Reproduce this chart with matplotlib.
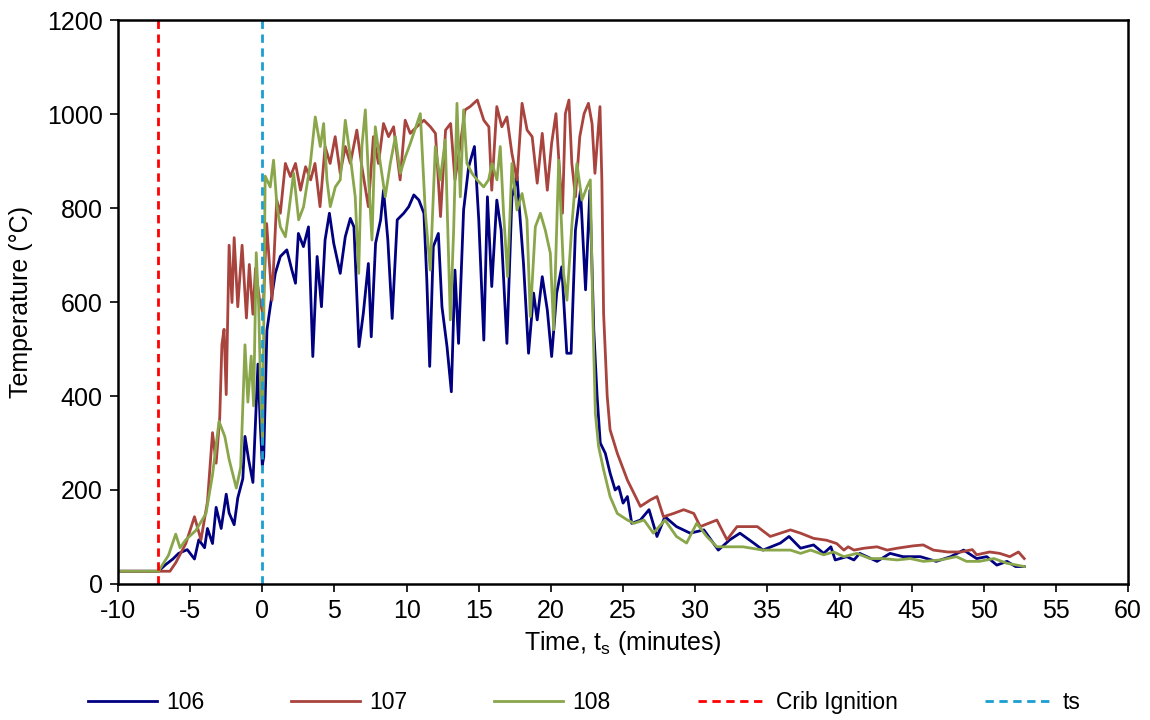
import matplotlib
matplotlib.use("Agg")
from matplotlib import pyplot as plt

# thermocouple 106
t106 = [-10, -7.2, -6.7, -6.2, -5.8, -5.2, -4.7, -4.4, -4.0, -3.8, -3.45, -3.2, -2.85, -2.5, -2.3, -1.95, -1.7, -1.35, -1.2, -0.95,
        -0.65, -0.47, -0.3, -0.15, 0.0, 0.1, 0.32, 0.55, 0.9, 1.25, 1.7, 2.05, 2.3, 2.5, 2.85, 3.2, 3.5, 3.8, 4.1, 4.35,
        4.65, 4.95, 5.4, 5.75, 6.1, 6.35, 6.7, 7.0, 7.35, 7.55, 7.85, 8.2, 8.4, 8.7, 9.0, 9.35, 9.8, 10.15, 10.5, 10.85,
        11.2, 11.4, 11.6, 11.85, 12.2, 12.45, 12.8, 13.1, 13.35, 13.6, 13.95, 14.3, 14.7, 15.0, 15.35, 15.6, 15.9, 16.25, 16.55, 16.95,
        17.3, 17.65, 18.1, 18.45, 18.8, 19.05, 19.4, 19.75, 20.05, 20.4, 20.75, 21.1, 21.4, 21.7, 22.05, 22.4, 22.7, 22.97, 23.2, 23.42,
        23.77, 24.1, 24.45, 24.7, 25.0, 25.3, 25.6, 26.2, 26.8, 27.35, 27.9, 28.7, 29.65, 30.6, 31.6, 32.4, 33.1, 34.05, 34.7, 35.9,
        36.5, 37.3, 38.2, 38.9, 39.4, 39.7, 40.5, 41.0, 41.4, 42.6, 43.5, 44.4, 45.6, 46.7, 47.7, 48.6, 49.5, 50.2, 50.9, 51.6,
        52.2, 52.8]
temp106 = [27, 27, 41, 53, 65, 73, 53, 94, 77, 118, 86, 163, 118, 191, 151, 126, 183, 224, 314, 265,
           216, 346, 468, 346, 252, 271, 540, 590, 661, 697, 711, 668, 640, 746, 718, 760, 484, 697, 590, 732,
           789, 725, 661, 739, 778, 760, 505, 576, 682, 526, 725, 775, 838, 732, 565, 775, 789, 803, 828, 817,
           789, 647, 463, 718, 746, 590, 505, 409, 668, 512, 796, 888, 931, 775, 519, 824, 633, 817, 753, 512,
           824, 867, 682, 491, 619, 562, 654, 583, 484, 619, 675, 491, 491, 753, 838, 626, 838, 541, 400, 300,
           278, 236, 200, 207, 172, 186, 129, 136, 158, 101, 143, 122, 108, 115, 72, 94, 108, 87, 72, 87,
           101, 76, 83, 65, 79, 51, 58, 51, 65, 48, 65, 58, 58, 48, 58, 72, 54, 58, 40, 48,
           37, 37]

# thermocouple 107
t107 = [-10, -6.4, -6.0, -5.3, -4.7, -4.25, -3.8, -3.45, -3.2, -2.95, -2.8, -2.65, -2.5, -2.3, -2.1, -1.95, -1.7, -1.4, -1.1, -0.9,
        -0.65, -0.47, -0.2, 0.05, 0.3, 0.67, 1.0, 1.25, 1.6, 1.95, 2.3, 2.65, 3.0, 3.35, 3.65, 4.0, 4.35, 4.7, 5.05, 5.4,
        5.75, 6.1, 6.55, 6.9, 7.35, 7.7, 8.05, 8.4, 8.75, 9.1, 9.55, 9.9, 10.25, 10.7, 11.2, 11.65, 12.0, 12.35, 12.7, 13.05,
        13.35, 13.7, 14.05, 14.4, 14.9, 15.35, 15.7, 15.9, 16.25, 16.6, 16.95, 17.3, 17.65, 18.0, 18.35, 18.7, 19.05, 19.4, 19.75, 20.05,
        20.35, 20.55, 20.8, 21.0, 21.25, 21.45, 21.7, 22.0, 22.3, 22.6, 22.85, 23.05, 23.4, 23.53, 23.65, 23.9, 24.1, 24.6, 25.3, 25.75,
        26.2, 26.9, 27.35, 27.8, 28.5, 29.2, 29.9, 30.35, 31.5, 32.2, 32.9, 34.3, 35.2, 36.6, 37.3, 38.2, 39.1, 39.8, 40.3, 40.6,
        41.0, 41.7, 42.6, 43.3, 44.0, 45.1, 45.8, 46.5, 47.5, 48.4, 49.2, 49.5, 50.4, 51.1, 51.8, 52.4, 52.8]
temp107 = [27, 27, 45, 86, 143, 94, 175, 322, 257, 354, 509, 542, 403, 721, 599, 737, 590, 721, 566, 680,
           574, 672, 607, 574, 767, 604, 817, 789, 895, 867, 895, 838, 888, 860, 895, 803, 931, 895, 952, 874,
           931, 895, 966, 888, 803, 952, 895, 980, 952, 973, 860, 987, 959, 973, 987, 973, 959, 782, 966, 980,
           860, 931, 1009, 1016, 1030, 987, 973, 838, 1016, 973, 994, 916, 860, 1023, 966, 952, 853, 959, 838, 938,
           1001, 901, 789, 1001, 1030, 895, 824, 952, 1001, 1023, 980, 874, 1016, 860, 576, 400, 328, 278, 221, 193,
           165, 179, 186, 143, 150, 158, 150, 122, 136, 94, 122, 122, 101, 115, 108, 97, 93, 86, 72, 79,
           72, 76, 79, 72, 76, 81, 83, 72, 68, 68, 73, 62, 68, 65, 58, 68, 54]

# thermocouple 108
t108 = [-10, -7.2, -6.5, -6.0, -5.7, -5.3, -4.6, -3.9, -3.45, -3.0, -2.6, -2.3, -1.8, -1.5, -1.2, -1.0, -0.77, -0.6, -0.42, -0.25,
        -0.1, 0.02, 0.2, 0.55, 0.78, 1.02, 1.25, 1.6, 1.82, 2.17, 2.52, 2.86, 3.33, 3.67, 4.02, 4.25, 4.48, 4.71, 5.06, 5.4,
        5.75, 6.1, 6.44, 6.68, 6.9, 7.14, 7.37, 7.6, 7.83, 8.18, 8.52, 8.87, 9.22, 9.56, 9.91, 10.26, 10.72, 10.95, 11.3, 11.64,
        11.99, 12.33, 12.68, 13.03, 13.26, 13.49, 13.72, 13.95, 14.18, 14.53, 14.88, 15.34, 15.68, 15.92, 16.26, 16.49, 16.72, 17.0, 17.3, 17.65,
        18.0, 18.34, 18.57, 18.92, 19.27, 19.61, 19.96, 20.19, 20.54, 20.88, 21.11, 21.46, 21.8, 22.15, 22.5, 22.73, 22.9, 23.08, 23.3, 23.65,
        24.1, 24.6, 25.3, 25.75, 26.45, 27.1, 27.9, 28.7, 29.4, 30.1, 30.8, 31.5, 33.3, 34.7, 36.6, 37.3, 38.0, 38.9, 39.6, 40.3,
        41.2, 42.1, 43.0, 44.0, 44.9, 45.8, 47.0, 48.1, 48.8, 49.7, 50.7, 51.6, 52.3, 52.8]
temp108 = [27, 27, 61, 106, 77, 94, 114, 150, 232, 346, 314, 265, 204, 248, 509, 387, 485, 379, 705, 590,
           392, 300, 868, 845, 902, 803, 760, 739, 789, 874, 775, 803, 895, 994, 931, 980, 860, 803, 845, 860,
           987, 909, 824, 661, 931, 1009, 860, 732, 973, 895, 824, 895, 952, 874, 909, 938, 980, 1001, 789, 668,
           931, 860, 945, 562, 753, 1023, 824, 1009, 895, 874, 860, 845, 860, 895, 860, 931, 789, 654, 895, 796,
           831, 775, 569, 760, 789, 753, 704, 541, 902, 661, 604, 767, 895, 817, 845, 860, 576, 363, 293, 243,
           186, 150, 136, 129, 136, 108, 136, 101, 87, 129, 101, 79, 79, 72, 72, 65, 72, 62, 68, 58,
           65, 54, 54, 51, 54, 48, 51, 58, 48, 48, 54, 44, 40, 37]

crib_ignition = -7.2
ts = 0.0

plt.rcParams['font.family'] = ['Liberation Sans', 'DejaVu Sans']
plt.rcParams['axes.unicode_minus'] = False

fig = plt.figure(figsize=(11.5, 7.2), dpi=100)
ax = fig.add_axes([0.1026, 0.189, 0.8784, 0.783])

ax.plot(t106, temp106, color='#000080', linewidth=2.0, label='106')
ax.plot(t107, temp107, color='#A8433D', linewidth=2.0, label='107')
ax.plot(t108, temp108, color='#8AA64B', linewidth=2.0, label='108')
ax.axvline(crib_ignition, color='#FF0000', linestyle=(0, (3, 2)), linewidth=2, label='Crib Ignition')
ax.axvline(ts, color='#1A9FD0', linestyle=(0, (3, 2)), linewidth=2, label='ts')

ax.set_xlim(-10, 60)
ax.set_ylim(0, 1200)
ax.set_xticks(range(-10, 61, 5))
ax.set_yticks(range(0, 1201, 200))
ax.tick_params(direction='out', length=6, width=1.2, labelsize=18, pad=5)
for s in ax.spines.values():
    s.set_linewidth(1.8)

ax.set_xlabel('Time, t$_\\mathregular{s}$ (minutes)', fontsize=18, labelpad=4)
ax.set_ylabel('Temperature (°C)', fontsize=18, labelpad=10)

fig.legend(loc='center', bbox_to_anchor=(0.508, 0.024), ncol=5, frameon=False,
           fontsize=16.5, handlelength=3.0, handletextpad=0.4, columnspacing=3.8)

fig.savefig('out.png', dpi=100)
